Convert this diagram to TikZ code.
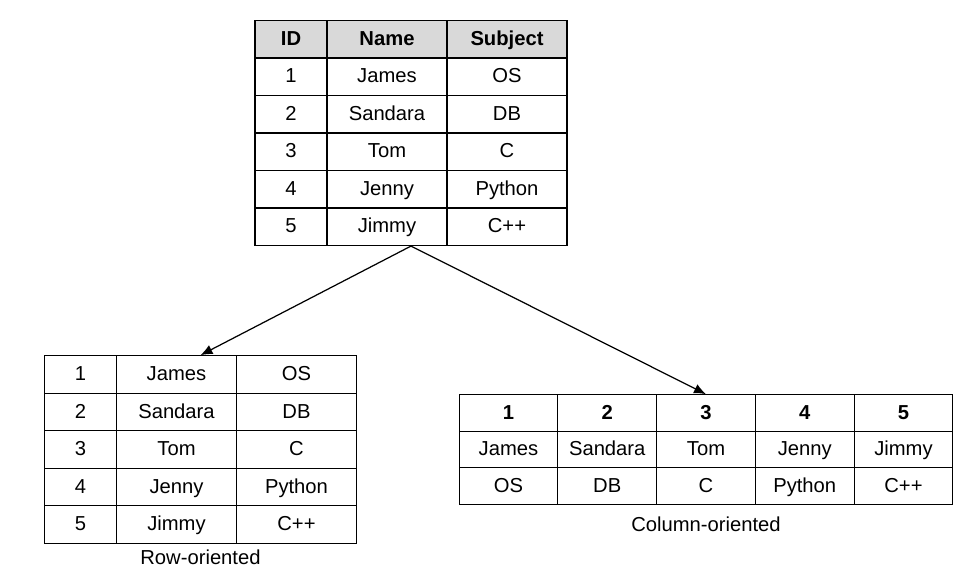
\documentclass[tikz,border=0pt]{standalone}
\usepackage{fontspec}
\setmainfont{Liberation Sans}
\usepackage{xcolor}
\usepackage{tikz}
\usetikzlibrary{arrows.meta, positioning, matrix}
\definecolor{headgray}{RGB}{217, 217, 217}

\begin{document}
\begin{tikzpicture}[
    font=\fontsize{11.5}{13.5}\selectfont,
    tab/.style={matrix of nodes, inner sep=0pt, outer sep=0pt,
        column sep=-0.65pt, row sep=-0.65pt,
        nodes={draw, line width=0.65pt, anchor=center, inner sep=0pt,
            text height=1.6ex, text depth=0.3ex}},
    link/.style={-{Latex[length=2.4mm, width=2mm]}, line width=0.7pt},
    caption/.style={inner sep=0pt},
]
    \useasboundingbox (0,0) rectangle (19.56,-11.64);

    % Source table
    \matrix (src) [tab, nodes={minimum height=0.75cm},
        column 1/.style={nodes={minimum width=1.44cm}},
        column 2/.style={nodes={minimum width=2.4cm}},
        column 3/.style={nodes={minimum width=2.4cm}},
        row 1/.style={nodes={fill=headgray, font=\fontsize{11.5}{13.5}\selectfont\bfseries}}] at (8.22,-2.66) {
        ID & Name & Subject \\
        1 & James & OS \\
        2 & Sandara & DB \\
        3 & Tom & C \\
        4 & Jenny & Python \\
        5 & Jimmy & C++ \\
    };

    % Row-oriented layout
    \matrix (rowtab) [tab, nodes={minimum height=0.75cm},
        column 1/.style={nodes={minimum width=1.44cm}},
        column 2/.style={nodes={minimum width=2.4cm}},
        column 3/.style={nodes={minimum width=2.4cm}}] at (4.01,-8.99) {
        1 & James & OS \\
        2 & Sandara & DB \\
        3 & Tom & C \\
        4 & Jenny & Python \\
        5 & Jimmy & C++ \\
    };
    \node[caption, below=0.12cm of rowtab] (rowlabel) {Row-oriented};

    % Column-oriented layout
    \matrix (coltab) [tab, nodes={minimum height=0.73cm, minimum width=1.975cm},
        row 1/.style={nodes={font=\fontsize{11.5}{13.5}\selectfont\bfseries}}] at (14.12,-8.99) {
        1 & 2 & 3 & 4 & 5 \\
        James & Sandara & Tom & Jenny & Jimmy \\
        OS & DB & C & Python & C++ \\
    };
    \node[caption, below=0.24cm of coltab] (collabel) {Column-oriented};

    % Arrows
    \draw[link] (src.south) -- (rowtab.north);
    \draw[link] (src.south) -- (coltab.north);
\end{tikzpicture}
\end{document}
